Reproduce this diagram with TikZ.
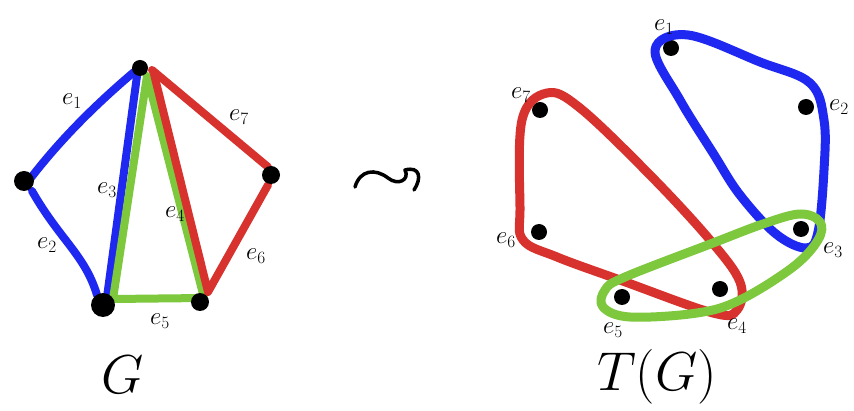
\documentclass[tikz,border=0pt]{standalone}
\usetikzlibrary{calc}
\definecolor{hblue}{RGB}{30,40,240}
\definecolor{hred}{RGB}{215,50,45}
\definecolor{hgreen}{RGB}{125,200,60}
\tikzset{
  vdot/.style={circle,fill=black,inner sep=0pt,minimum size=#1},
  vdot/.default=17pt,
  pen/.style={line width=8pt,line cap=round,line join=round},
  hyper/.style={line width=9pt,line join=round},
  lab/.style={font=\fontsize{24}{26}\selectfont,inner sep=0pt},
  big/.style={font=\fontsize{24}{26}\selectfont,scale=2.2,inner sep=0pt}
}
\begin{document}
\begin{tikzpicture}[x=1pt,y=-1pt]
\useasboundingbox[fill=white] (0,0) rectangle (854,411);
% ---------- graph G ----------
\coordinate (t) at (140,68);
\coordinate (l) at (24,181);
\coordinate (r) at (271,175);
\coordinate (bl) at (103,305);
\coordinate (br) at (200,302);
\draw[pen,hblue] ($(t)+(-6,4)$) .. controls (95,105) and (60,140) .. ($(l)+(6,-2)$);
\draw[pen,hblue] ($(l)+(8,10)$) .. controls (60,240) and (85,255) .. ($(bl)+(-6,-10)$);
\draw[pen,hblue] ($(t)+(-3,8)$) -- ($(bl)+(4,-8)$);
\draw[pen,hgreen] ($(t)+(7,8)$) -- ($(bl)+(10,-6)$) -- ($(br)+(4,-4)$) -- cycle;
\draw[pen,hred] ($(t)+(12,2)$) -- ($(r)+(-3,-8)$);
\draw[pen,hred] ($(r)+(-3,10)$) -- ($(br)+(8,-10)$) -- ($(t)+(14,6)$);
\node[vdot=16pt] (vt) at (t) {};
\node[vdot=20pt] (vl) at (l) {};
\node[vdot=18pt] (vr) at (r) {};
\node[vdot=24pt] (vbl) at (bl) {};
\node[vdot=18pt] (vbr) at (br) {};
\node[lab] (g1) at (72,101) {$e_1$};
\node[lab] (g2) at (47,245) {$e_2$};
\node[lab] (g3) at (107,190) {$e_3$};
\node[lab] (g4) at (175,214) {$e_4$};
\node[lab] (g5) at (160,321) {$e_5$};
\node[lab] (g6) at (256,256) {$e_6$};
\node[lab] (g7) at (239,117) {$e_7$};
\node[big] (G) at (123,375) {$G$};
% ---------- squiggle ----------
\draw[line width=3.5pt,line cap=round,line join=round]
  (355,187) .. controls (360,170) and (375,168) .. (388,178)
  .. controls (398,186) and (410,180) .. (405,170)
  .. controls (420,166) and (422,178) .. (414,190);
% ---------- T(G) ----------
\node[vdot=16pt] (n1) at (671,48) {};
\node[vdot=16pt] (n2) at (806,107) {};
\node[vdot=16pt] (n3) at (801,229) {};
\node[vdot=16pt] (n4) at (720,289) {};
\node[vdot=16pt] (n5) at (622,297) {};
\node[vdot=16pt] (n6) at (539,232) {};
\node[vdot=16pt] (n7) at (540,110) {};
\draw[hyper,hblue] plot[smooth cycle,tension=0.6] coordinates {
  (655,50) (688,35) (760,62) (810,83) (824,120) (824,170) (818,232)
  (806,248) (776,234) (740,195) (713,153) (680,100)};
\draw[hyper,hred] plot[smooth cycle,tension=0.6] coordinates {
  (547,93) (580,108) (650,175) (710,240) (740,282) (737,310) (713,313)
  (620,280) (557,257) (523,240) (520,207) (522,120)};
\draw[hyper,hgreen] plot[smooth cycle,tension=0.6] coordinates {
  (800,214) (820,222) (818,240) (793,267) (740,300) (697,313) (630,317)
  (603,307) (605,290) (625,277) (713,243) (763,224)};
\node[lab] (m1) at (664,27) {$e_1$};
\node[lab] (m2) at (839,107) {$e_2$};
\node[lab] (m3) at (833,250) {$e_3$};
\node[lab] (m4) at (737,326) {$e_4$};
\node[lab] (m5) at (613,330) {$e_5$};
\node[lab] (m6) at (506,240) {$e_6$};
\node[lab] (m7) at (521,95) {$e_7$};
\node[big] (TG) at (657,377) {$T(G)$};
\end{tikzpicture}
\end{document}
